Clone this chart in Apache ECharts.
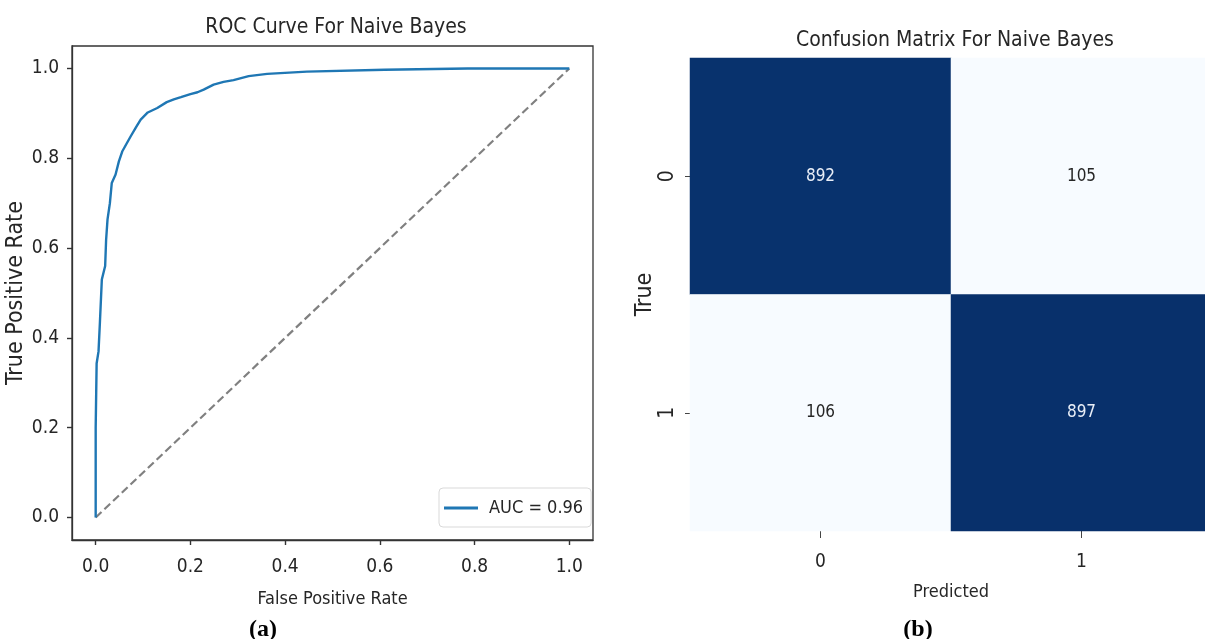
<!DOCTYPE html>
<html>
<head>
<meta charset="utf-8">
<script src="https://cdn.jsdelivr.net/npm/echarts@6/dist/echarts.min.js"></script>
<style>
  html, body { margin: 0; padding: 0; background: #fff; }
  #chart { width: 1205px; height: 639px; }
</style>
</head>
<body>
<div id="chart"></div>
<script>
// ROC curve points (false positive rate, true positive rate)
const rocFpr = [0, 0, 0.002, 0.002, 0.006, 0.009, 0.009, 0.013, 0.013, 0.02, 0.022, 0.025, 0.03, 0.034, 0.042,
  0.049, 0.056, 0.066, 0.074, 0.085, 0.095, 0.11, 0.13, 0.15, 0.165, 0.18, 0.2, 0.215, 0.228, 0.249,
  0.27, 0.291, 0.323, 0.362, 0.446, 0.61, 0.785, 1];
const rocTpr = [0, 0.2, 0.2, 0.343, 0.37, 0.37, 0.436, 0.44, 0.53, 0.56, 0.618, 0.664, 0.70, 0.745, 0.764,
  0.793, 0.815, 0.834, 0.849, 0.869, 0.886, 0.902, 0.912, 0.925, 0.931, 0.936, 0.943, 0.947, 0.953, 0.964,
  0.970, 0.974, 0.983, 0.988, 0.993, 0.997, 1.0, 1.0];
const chanceX = [0, 1];
const chanceY = [0, 1];
const rateTicks = [0, 0.2, 0.4, 0.6, 0.8, 1.0];
const aucLabel = 'AUC = 0.96';

// confusion matrix
const classLabels = ['0', '1'];
const matrixValues = [
  [892, 105],
  [106, 897]
];

const narrow = "'DejaVu Sans Condensed', 'Liberation Sans Narrow', 'DejaVu Sans', sans-serif";
const inkColor = '#262626';

const rocData = rocFpr.map((x, i) => [x, rocTpr[i]]);
const chanceData = chanceX.map((x, i) => [x, chanceY[i]]);

let heatData = [];
matrixValues.forEach((row, r) => {
  row.forEach((v, c) => {
    heatData.push({
      value: [c, r, v],
      label: { color: v > 500 ? '#e9eef7' : inkColor }
    });
  });
});

const chart = echarts.init(document.getElementById('chart'), null, { renderer: 'canvas' });

// tick marks only at the labelled rates (axis range carries a 5% margin)
const rateTick = { show: true, customValues: rateTicks, length: 5, lineStyle: { color: '#333', width: 1.4 } };

const option = {
  backgroundColor: '#ffffff',
  animation: false,
  title: [
    { text: 'ROC Curve For Naive Bayes', left: 331, top: 12, textAlign: 'center',
      textStyle: { fontFamily: narrow, fontSize: 21, fontWeight: 'normal', color: inkColor } },
    { text: 'Confusion Matrix For Naive Bayes', left: 950, top: 25, textAlign: 'center',
      textStyle: { fontFamily: narrow, fontSize: 21, fontWeight: 'normal', color: inkColor } },
    { text: '(a)', left: 258, top: 613, textAlign: 'center',
      textStyle: { fontFamily: "'Liberation Serif', serif", fontSize: 24, fontWeight: 'bold', color: '#000' } },
    { text: '(b)', left: 913, top: 613, textAlign: 'center',
      textStyle: { fontFamily: "'Liberation Serif', serif", fontSize: 24, fontWeight: 'bold', color: '#000' } }
  ],
  legend: {
    data: [aucLabel],
    left: 439,
    top: 488,
    padding: [11, 8, 10, 5],
    backgroundColor: '#fff',
    borderColor: '#d9d9d9',
    borderWidth: 1,
    borderRadius: 4,
    icon: 'rect',
    itemWidth: 34,
    itemHeight: 3,
    textStyle: { fontFamily: narrow, fontSize: 18, color: inkColor, padding: [0, 0, 0, 6] }
  },
  visualMap: {
    show: false,
    seriesIndex: 2,
    dimension: 2,
    min: 105,
    max: 897,
    inRange: { color: ['#f7fbff', '#deebf7', '#c6dbef', '#9ecae1', '#6baed6', '#4292c6', '#2171b5', '#08519c', '#08306b'] }
  },
  grid: [
    { left: 72, top: 46, width: 521, height: 494, show: true, borderColor: '#333', borderWidth: 1.3,
      backgroundColor: 'transparent', containLabel: false, outerBoundsMode: 'none' },
    { left: 690, top: 58, width: 522, height: 473, containLabel: false, outerBoundsMode: 'none' }
  ],
  xAxis: [
    {
      gridIndex: 0, type: 'value', min: -0.05, max: 1.05,
      name: 'False Positive Rate', nameLocation: 'middle', nameGap: 50,
      nameTextStyle: { fontFamily: narrow, fontSize: 18, color: inkColor },
      axisLine: { show: true, onZero: false, lineStyle: { color: '#333', width: 1.3 } },
      splitLine: { show: false },
      axisTick: rateTick,
      axisLabel: { customValues: rateTicks, margin: 18, fontFamily: narrow, fontSize: 19, color: inkColor,
        formatter: v => v.toFixed(1) }
    },
    {
      gridIndex: 1, type: 'category', data: classLabels,
      name: 'Predicted', nameLocation: 'middle', nameGap: 52,
      nameTextStyle: { fontFamily: narrow, fontSize: 18, color: inkColor },
      axisLine: { show: false, onZero: false },
      splitLine: { show: false },
      axisTick: { show: true, alignWithLabel: true, length: 7, lineStyle: { color: '#444', width: 1 } },
      axisLabel: { margin: 22, fontFamily: narrow, fontSize: 19, color: inkColor }
    }
  ],
  yAxis: [
    {
      gridIndex: 0, type: 'value', min: -0.05, max: 1.05,
      name: 'True Positive Rate', nameLocation: 'middle', nameGap: 40, nameRotate: 90,
      nameTextStyle: { fontFamily: narrow, fontSize: 23, color: inkColor },
      axisLine: { show: true, onZero: false, lineStyle: { color: '#333', width: 1.3 } },
      splitLine: { show: false },
      axisTick: rateTick,
      axisLabel: { customValues: rateTicks, margin: 13, fontFamily: narrow, fontSize: 19, color: inkColor,
        formatter: v => v.toFixed(1) }
    },
    {
      gridIndex: 1, type: 'category', data: classLabels, inverse: true,
      name: 'True', nameLocation: 'middle', nameGap: 30, nameRotate: 90,
      nameTextStyle: { fontFamily: narrow, fontSize: 23, color: inkColor },
      axisLine: { show: false, onZero: false },
      splitLine: { show: false },
      axisTick: { show: true, alignWithLabel: true, length: 5, lineStyle: { color: '#444', width: 1 } },
      axisLabel: { rotate: 90, margin: 12, fontFamily: narrow, fontSize: 21, color: inkColor }
    }
  ],
  series: [
    {
      name: aucLabel,
      type: 'line',
      xAxisIndex: 0, yAxisIndex: 0,
      data: rocData,
      symbol: 'none',
      lineStyle: { color: '#1f77b4', width: 2.4 },
      itemStyle: { color: '#1f77b4' },
      z: 3
    },
    {
      name: 'chance',
      type: 'line',
      xAxisIndex: 0, yAxisIndex: 0,
      data: chanceData,
      symbol: 'none',
      lineStyle: { color: '#808080', width: 2.2, type: [8, 4] },
      z: 2
    },
    {
      name: 'confusion',
      type: 'heatmap',
      xAxisIndex: 1, yAxisIndex: 1,
      data: heatData,
      label: { show: true, fontFamily: narrow, fontSize: 17 },
      itemStyle: { borderWidth: 0 },
      emphasis: { disabled: true }
    }
  ]
};

chart.setOption(option);
</script>
</body>
</html>
